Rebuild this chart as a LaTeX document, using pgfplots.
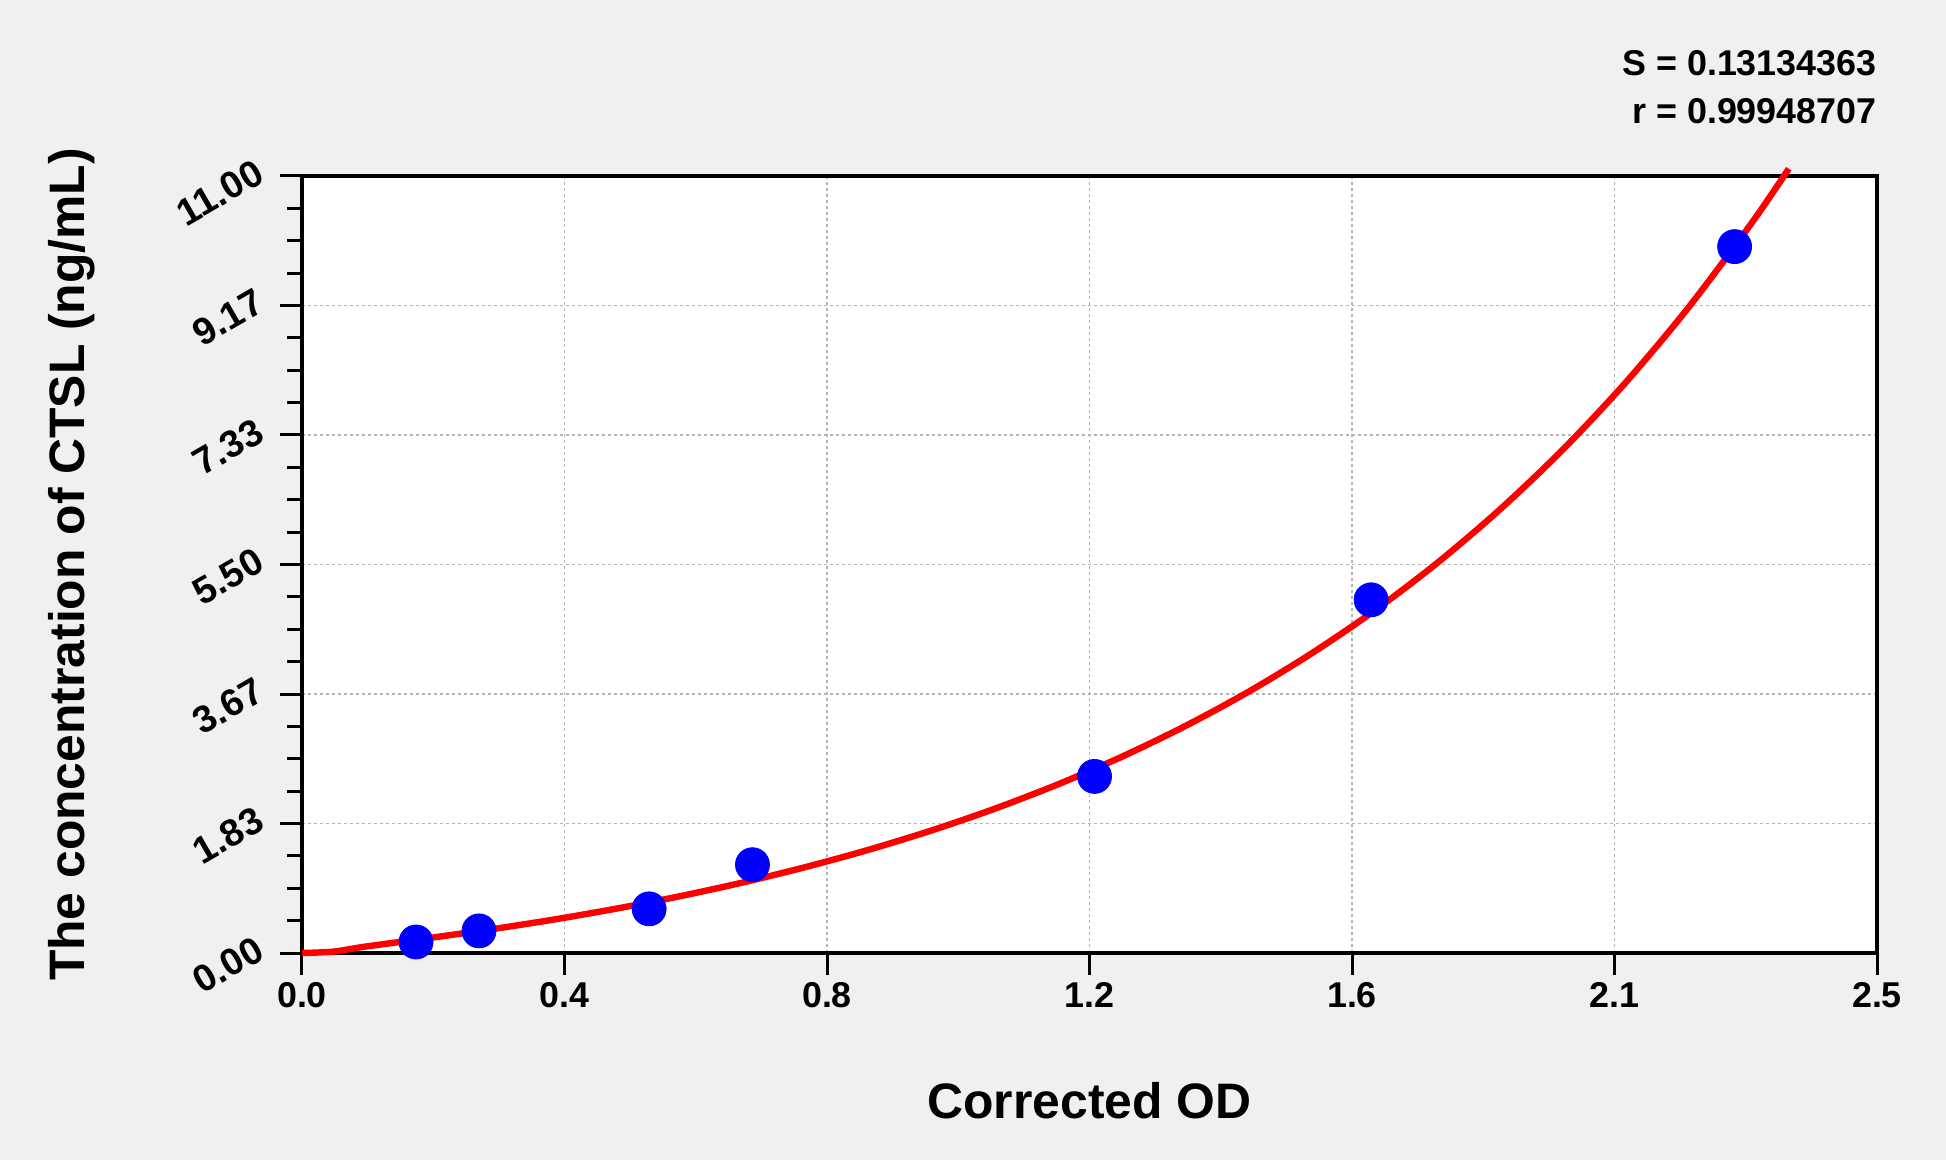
\documentclass[border=0pt]{standalone}
\usepackage{pgfplots}
\pgfplotsset{compat=1.18}
\usepackage{fontspec}
\setmainfont{Liberation Sans}
\definecolor{bggray}{HTML}{F0F0F0}
\definecolor{gridgray}{HTML}{B4B4B4}
\begin{document}
\begin{tikzpicture}
% page background, 1946x1160 px at 0.5bp per px
\fill[bggray] (-151bp,-103.5bp) rectangle (822bp,476.5bp);
\begin{axis}[
    scale only axis,
    width=787.5bp,
    height=388.5bp,
    at={(0,0)}, anchor=south west,
    axis background/.style={fill=white},
    xmin=0, xmax=2.5,
    ymin=0, ymax=11,
    clip=false,
    xtick={0,0.416667,0.833333,1.25,1.666667,2.083333,2.5},
    xticklabels={0.0,0.4,0.8,1.2,1.6,2.1,2.5},
    ytick={0,1.833333,3.666667,5.5,7.333333,9.166667,11},
    yticklabels={0.00,1.83,3.67,5.50,7.33,9.17,11.00},
    minor x tick num=3,
    minor y tick num=3,
    xtick pos=left, ytick pos=left,
    tick align=outside,
    major tick length=11bp,
    minor tick length=7.5bp,
    every tick/.style={black, line width=1.5bp},
    axis line style={line width=1.75bp},
    grid=major,
    major grid style={gridgray, line width=0.6bp, dash pattern=on 1.5bp off 1.5bp},
    xticklabel style={font=\fontsize{18}{20}\selectfont\bfseries},
    yticklabel style={font=\fontsize{19}{21}\selectfont\bfseries, yshift=5bp, rotate=30, anchor=east},
    yticklabel shift=7bp,
    xlabel={Corrected OD},
    ylabel={The concentration of CTSL (ng/mL)},
    xlabel style={at={(axis description cs:0.5,-0.1905)}, anchor=center,
        font=\fontsize{25}{30}\selectfont\bfseries},
    ylabel style={at={(axis description cs:-0.146,0.5)}, anchor=center,
        font=\fontsize{25}{30}\selectfont\bfseries},
]
% fitted curve
\addplot[red, line width=3.2bp, smooth] coordinates {
    (0,0) (0.05,0.02) (0.1,0.09) (0.2,0.21) (0.3,0.335) (0.4,0.474)
    (0.5,0.63) (0.6,0.804) (0.7,0.999) (0.8,1.218) (0.9,1.463)
    (1.0,1.737) (1.1,2.044) (1.2,2.388) (1.3,2.773) (1.4,3.204)
    (1.5,3.686) (1.6,4.227) (1.7,4.831) (1.8,5.508) (1.9,6.267)
    (2.0,7.115) (2.1,8.066) (2.2,9.13) (2.3,10.321) (2.36,11.103)
};
% standards
\addplot[only marks, mark=*, mark size=8.5bp, blue, mark options={fill=blue, draw=blue}] coordinates {
    (0.181,0.156) (0.281,0.313) (0.551,0.625) (0.715,1.25)
    (1.258,2.5) (1.697,5) (2.274,10)
};
\node[anchor=base east, font=\fontsize{18}{20}\selectfont\bfseries, inner sep=0pt]
    at ([yshift=50bp]rel axis cs:1,1) {S = 0.13134363};
\node[anchor=base east, font=\fontsize{18}{20}\selectfont\bfseries, inner sep=0pt]
    at ([yshift=26bp]rel axis cs:1,1) {r = 0.99948707};
\end{axis}
\pgfresetboundingbox
\path (-151bp,-103.5bp) rectangle (822bp,476.5bp);
\end{tikzpicture}
\end{document}
